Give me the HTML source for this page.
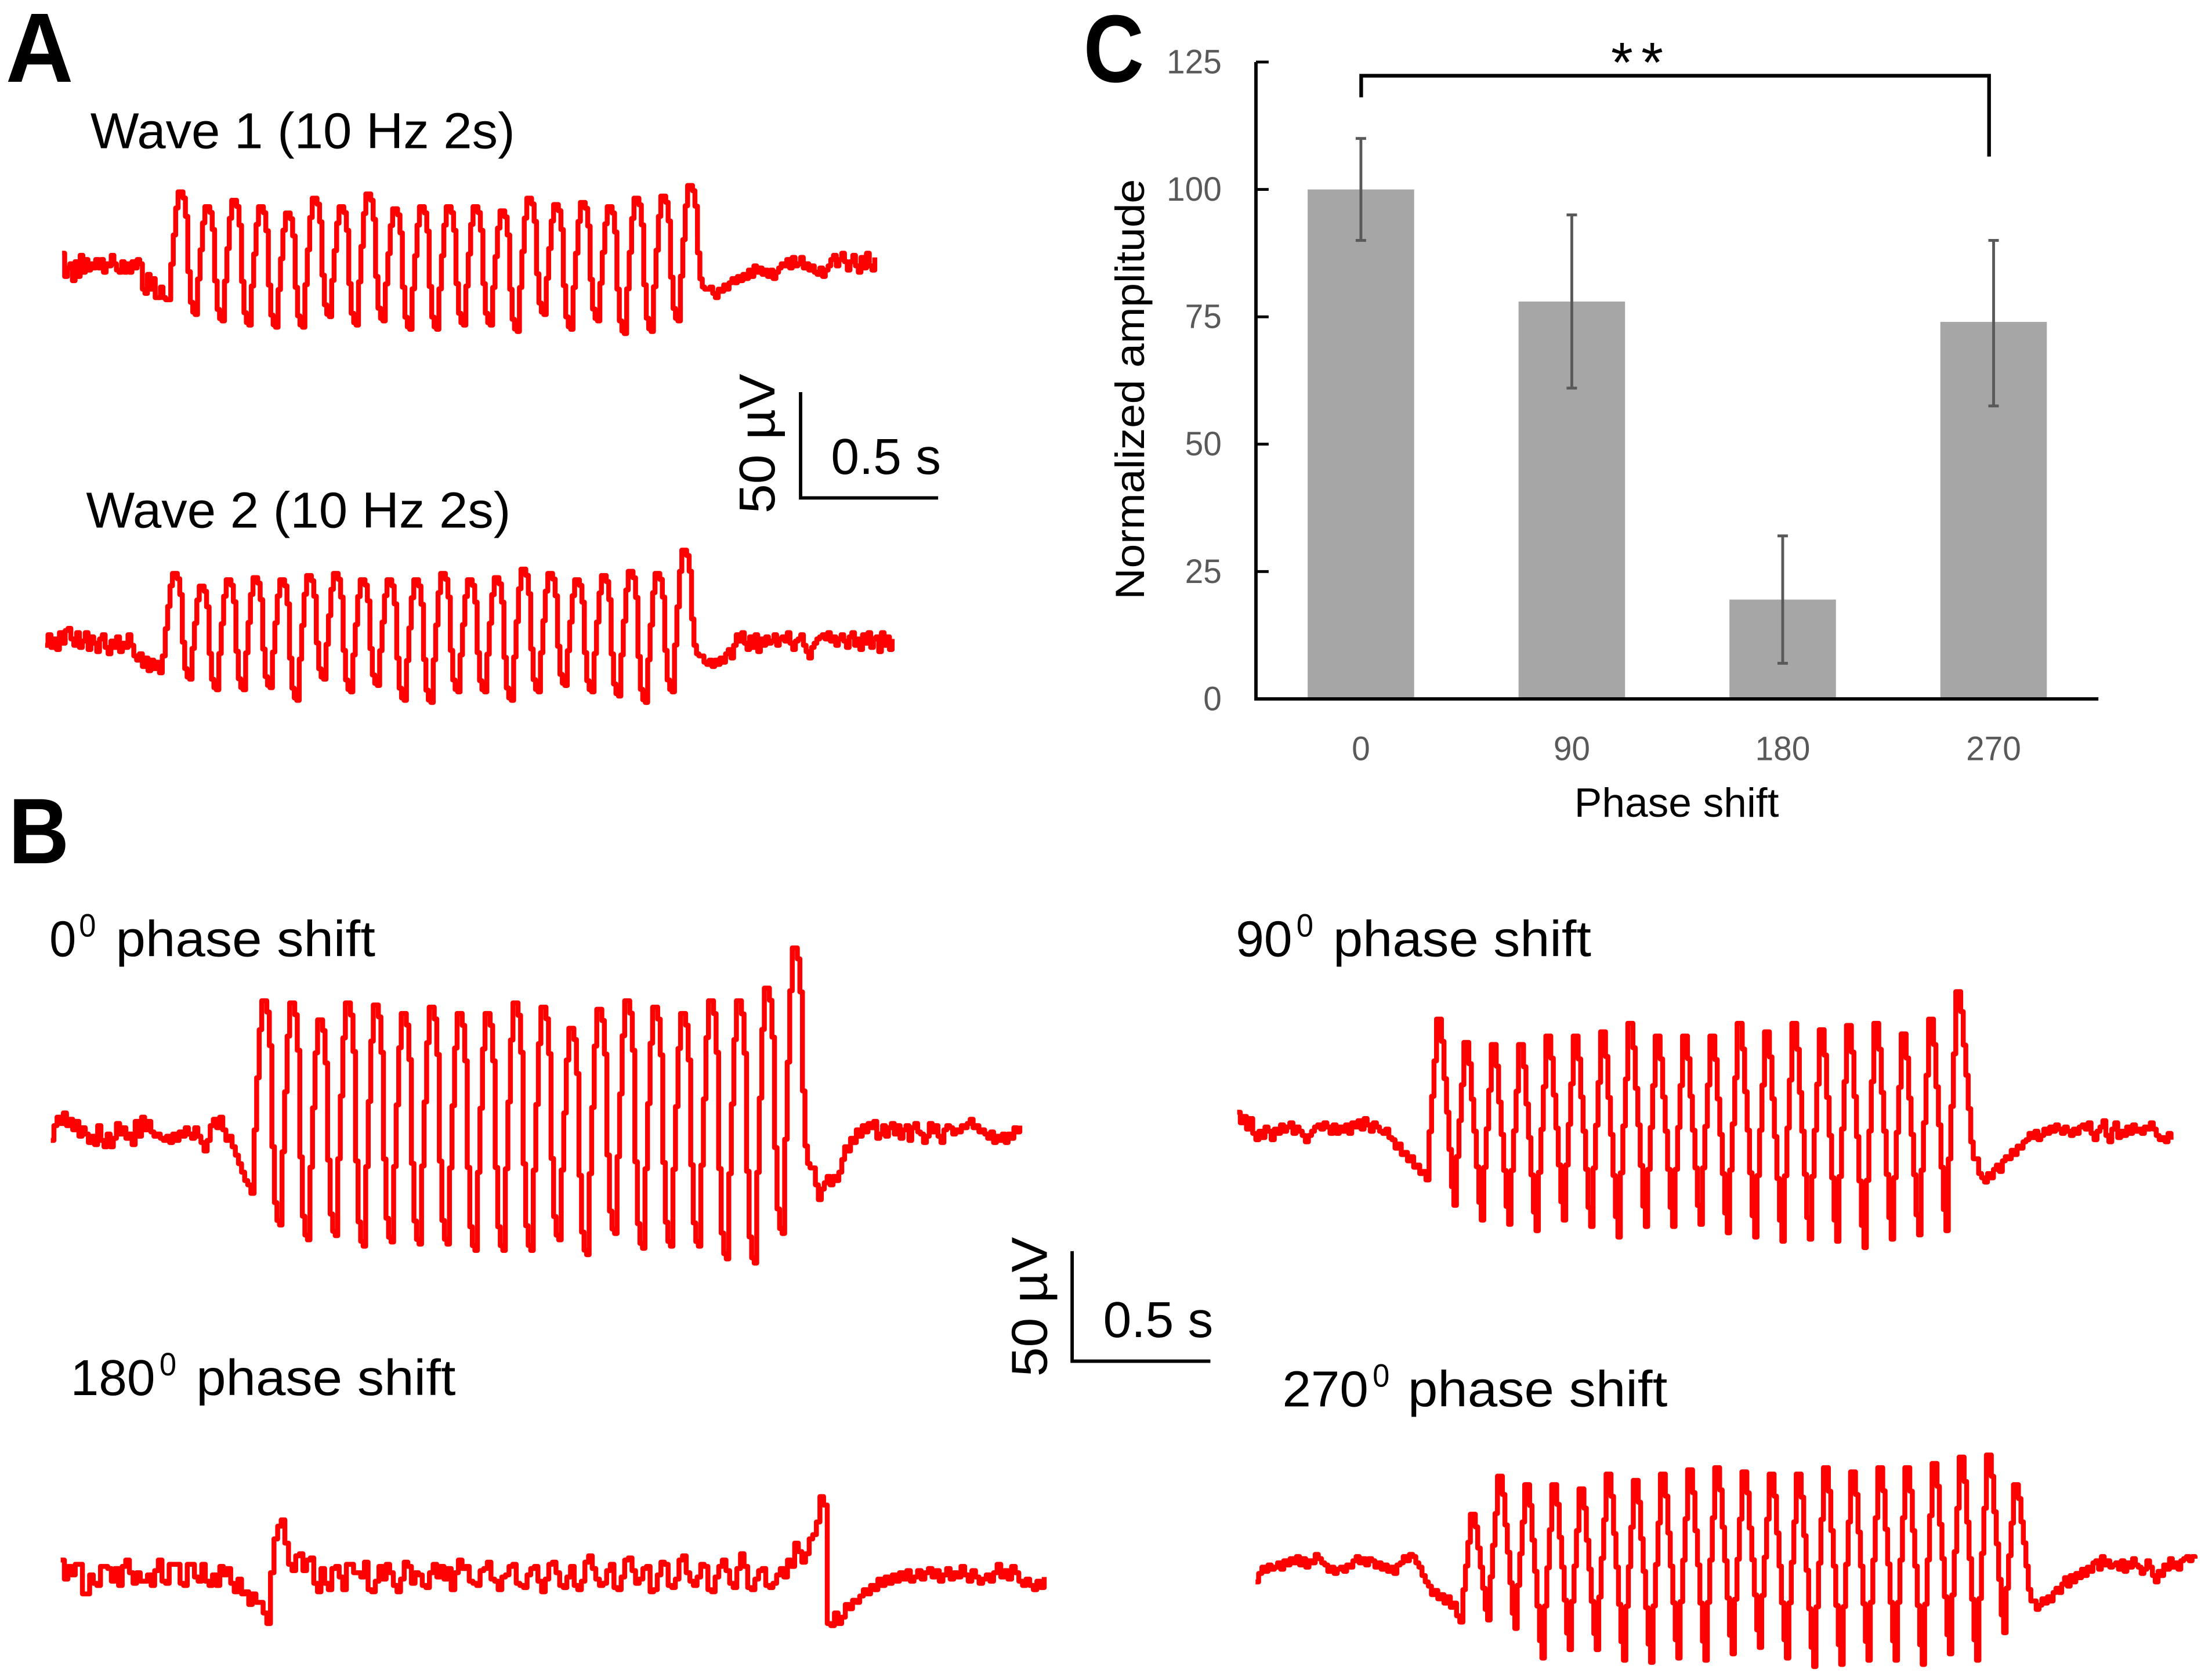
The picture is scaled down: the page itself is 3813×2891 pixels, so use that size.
<!DOCTYPE html>
<html lang="en">
<head>
<meta charset="utf-8">
<title>Phase shift recordings</title>
<style>
html,body{margin:0;padding:0;background:#fff}
svg{display:block}
text{font-family:"Liberation Sans",sans-serif;fill:#000}
</style>
</head>
<body>
<svg id="fig" xmlns="http://www.w3.org/2000/svg" width="3813" height="2891" viewBox="0 0 1568 1188.9">
  <rect width="1568" height="1189" fill="#fff"/>
  <text x="4" y="58" font-size="70" font-weight="700" textLength="48" lengthAdjust="spacingAndGlyphs">A</text>
  <text x="6" y="612" font-size="66" font-weight="700" textLength="43" lengthAdjust="spacingAndGlyphs">B</text>
  <text x="768" y="58" font-size="68" font-weight="700" textLength="43" lengthAdjust="spacingAndGlyphs">C</text>

  <text x="64" y="105" font-size="36" textLength="301" lengthAdjust="spacingAndGlyphs">Wave 1 (10 Hz 2s)</text>
  <text x="61" y="374" font-size="36" textLength="301" lengthAdjust="spacingAndGlyphs">Wave 2 (10 Hz 2s)</text>

  <g>
    <text x="35" y="678" font-size="36" textLength="19" lengthAdjust="spacingAndGlyphs">0</text>
    <text x="56" y="664" font-size="23" textLength="12" lengthAdjust="spacingAndGlyphs">0</text>
    <text x="82" y="678" font-size="36" textLength="184" lengthAdjust="spacingAndGlyphs">phase shift</text>
  </g>
  <g>
    <text x="876" y="678" font-size="36" textLength="40" lengthAdjust="spacingAndGlyphs">90</text>
    <text x="919" y="664" font-size="23" textLength="12" lengthAdjust="spacingAndGlyphs">0</text>
    <text x="945" y="678" font-size="36" textLength="183" lengthAdjust="spacingAndGlyphs">phase shift</text>
  </g>
  <g>
    <text x="50" y="989" font-size="36" textLength="60" lengthAdjust="spacingAndGlyphs">180</text>
    <text x="113" y="975" font-size="23" textLength="12" lengthAdjust="spacingAndGlyphs">0</text>
    <text x="139" y="989" font-size="36" textLength="184" lengthAdjust="spacingAndGlyphs">phase shift</text>
  </g>
  <g>
    <text x="909" y="997" font-size="36" textLength="61" lengthAdjust="spacingAndGlyphs">270</text>
    <text x="973" y="983" font-size="23" textLength="12" lengthAdjust="spacingAndGlyphs">0</text>
    <text x="998" y="997" font-size="36" textLength="184" lengthAdjust="spacingAndGlyphs">phase shift</text>
  </g>

  <g>
    <path d="M567.5 278V353H665" fill="none" stroke="#000" stroke-width="2.4"/>
    <text x="589" y="336" font-size="36" textLength="78" lengthAdjust="spacingAndGlyphs">0.5 s</text>
    <text transform="translate(549 364) rotate(-90)" font-size="36" textLength="99" lengthAdjust="spacingAndGlyphs">50 µV</text>
  </g>
  <g>
    <path d="M760 887V965H858" fill="none" stroke="#000" stroke-width="2.4"/>
    <text x="782" y="948" font-size="36" textLength="78" lengthAdjust="spacingAndGlyphs">0.5 s</text>
    <text transform="translate(742 976) rotate(-90)" font-size="36" textLength="99" lengthAdjust="spacingAndGlyphs">50 µV</text>
  </g>

  <g id="traces"></g>
  <g id="bars"></g>
</svg>

<script>
/* ---------- bar chart data ---------- */
var phaseCategories = ["0", "90", "180", "270"];
var amplitudeValues = [100, 78, 19.5, 74];
var errorLow = [90, 61, 7, 57.5];
var errorHigh = [110, 95, 32, 90];
var amplitudeTicks = [0, 25, 50, 75, 100, 125];

/* ---------- trace data, values in microvolts relative to baseline ---------- */
var wave1Pre = [5,-6,-2,0,-8,1,-6,4,-4,2,-3,0,-2,2,-2,2,-4,0,-1,4,0,-3,-4,1,-4,0,-4,1,-2,2,0,-12,-14,-5,-12,-7,-16,-16,-11,-16,-17,-17];
var wave1Peaks = [34,27,30,27,24,31,27,33,26,27,27,27,25,31,28,29,27,31,32,37];
var wave1Troughs = [-24,-27,-29,-30,-30,-25,-29,-27,-31,-31,-29,-29,-32,-24,-31,-27,-33,-32,-27];
var wave1Post = [-12,-11,-14,-16,-12,-13,-10,-12,-9,-7,-9,-6,-8,-5,-7,-3,-6,-1,-4,-2,-5,-3,-6,-3,-7,-4,-2,0,-1,2,-2,3,-1,0,3,-2,0,-3,-1,-4,-5,-2,-6,-3,-1,2,4,-1,2,5,1,-3,1,4,-1,-4,3,-2,5,-1,-3,3];

var wave2Pre = [-3,2,-4,0,-5,3,-2,4,5,0,-3,3,-4,-1,3,-5,1,-2,-6,0,2,-4,-7,-1,-4,1,-6,-2,-4,2,-3,-8,-10,-7,-13,-9,-15,-10,-14,-11,-16,-8];
var wave2Peaks = [31,25,28,29,28,30,31,28,28,28,31,28,29,33,31,28,30,32,31,42];
var wave2Troughs = [-19,-24,-24,-23,-29,-19,-25,-22,-29,-30,-25,-25,-29,-25,-22,-25,-27,-30,-25];
var wave2Post = [-8,-11,-12,-10,-13,-10,-12,-9,-11,-7,-5,-9,-3,2,-1,3,-2,-5,1,-4,2,-6,0,-3,1,-2,-1,2,-3,0,1,-1,3,-2,-5,-1,0,2,-3,-6,-9,-4,-2,0,1,2,0,3,-1,1,-3,0,2,-1,-4,1,3,-3,0,-5,2,-2,3,-4,0,1,-6,3,-3,1,-5,0];

var phase0Pre = [-5,2,6,3,8,2,5,0,4,-3,1,-2,-6,-3,-7,2,-5,-8,-2,-8,-4,3,-2,1,-4,-2,-7,4,-3,6,0,4,-1,-3,-2,-4,-5,-3,-6,-2,-5,-1,-3,1,-2,-4,1,-3,-6,-10,-5,2,5,1,6,0,-5,-3,-8,-12,-16,-20,-24,-26,-30];
var phase0Peaks = [61,60,52,60,59,55,58,55,55,60,58,48,57,61,58,55,61,61,67,86];
var phase0Troughs = [-45,-52,-50,-55,-53,-54,-54,-57,-57,-57,-52,-59,-49,-56,-55,-55,-61,-63,-49];
var phase0Post = [-18,-26,-33,-28,-25,-22,-26,-22,-24,-20,-14,-8,-10,-4,-6,0,-3,2,-1,3,1,4,-4,-2,2,-3,1,3,-2,2,-4,0,2,-5,1,3,-1,-2,-6,-3,3,-1,2,-3,-6,0,2,1,-2,0,-1,2,1,3,5,1,2,-1,0,-2,-4,-1,-6,-3,-5,-2,-6,-2,-4,1,-1,2];

var phase90Pre = [7,2,5,-1,4,-3,-6,-2,-5,0,-2,-6,-1,-3,1,-2,0,2,-3,0,-2,-4,-7,-4,-2,0,1,-1,2,0,-3,1,-3,0,-2,1,-3,2,0,3,-1,4,1,-2,2,0,-2,-3,-1,-5,-6,-10,-8,-13,-12,-16,-14,-19,-18,-22,-21,-25];
var phase90Peaks = [51,40,39,39,43,43,45,49,43,43,43,49,45,49,46,48,49,44,51,64];
var phase90Troughs = [-37,-44,-46,-49,-44,-47,-52,-47,-47,-46,-50,-52,-54,-53,-54,-57,-53,-51,-49];
var phase90Post = [-15,-22,-24,-26,-22,-24,-20,-18,-21,-16,-14,-15,-11,-13,-9,-10,-7,-6,-3,-5,-2,-6,-4,-1,-3,0,-2,1,-1,-3,0,-2,-4,-1,-3,0,1,-1,2,-3,-6,-2,0,3,-4,-7,-1,2,-5,-2,-4,0,-3,1,-2,-1,-3,0,-1,2,-1,-4,-6,-5,-7,-3,-6];

var phase270Pre = [-9,-5,-2,-4,-1,-3,-2,0,-3,1,-1,2,0,3,-1,2,-2,1,0,4,2,0,-1,-4,-2,-5,-3,-2,-4,-1,-2,1,3,0,2,-1,2,1,-2,0,-3,-1,-4,-2,-5,-1,0,3,1,4,3,0,-2,-6,-9,-11,-15,-13,-17,-15,-19,-16,-21,-19,-25,-28];
var phase270Peaks = [23,41,37,37,35,42,39,42,44,45,43,42,42,45,43,45,45,47,50,51,37];
var phase270Troughs = [-27,-31,-45,-41,-41,-46,-47,-45,-46,-43,-40,-45,-49,-48,-46,-46,-48,-43,-46,-33];
var phase270Post = [-18,-22,-20,-17,-19,-16,-18,-14,-12,-14,-10,-7,-11,-6,-9,-5,-7,-3,-6,-2,-4,0,1,-3,3,-1,1,-2,-1,0,-3,1,-4,0,-2,2,-1,-2,-5,-3,1,-2,-6,-9,-4,-6,-1,-3,2,-2,0,-3,1,2,3,1,3,2];

var phase180Samples = [
6,-3,3,-1,4,4,-10,-10,-1,-5,-6,3,3,2,-4,2,-6,3,6,0,-5,0,-4,-4,-1,-6,1,6,-4,-5,4,4,4,-5,-6,4,4,-2,-4,4,-4,-6,-1,-6,3,-1,2,-5,-9,-3,-10,-9,-15,-10,-14,-14,-19,-24,0,16,22,25,14,4,1,8,9,1,6,7,-5,-9,2,-5,-8,2,3,-2,-8,4,4,0,0,-2,5,-8,-9,-4,3,-3,4,0,-6,-9,-3,5,3,-5,0,-1,-6,-7,0,4,-2,3,-3,2,-8,0,6,
2,3,-4,-5,-6,1,2,5,-3,-4,-8,-2,-1,3,4,-5,-6,-7,-1,2,3,-4,-9,-3,4,5,0,-6,-7,-2,3,-6,-8,-4,5,8,2,-3,-6,-5,1,4,-7,-8,-2,6,7,1,-5,-3,2,3,-9,-8,-1,5,4,-6,-7,-3,6,8,0,-4,-6,-2,4,3,-8,-9,-2,3,6,1,-5,-7,2,9,3,-7,-8,-3,1,2,-6,-7,
-5,-1,2,-2,6,3,14,10,5,9,16,18,24,36,32,
-24,-25,-19,-24,-21,-15,-17,-13,-14,-11,-8,-10,-6,-8,-3,-6,-2,-5,-1,-4,0,-3,1,-4,-2,1,-3,0,2,-2,1,-4,-1,2,-3,0,-2,3,-1,-4,1,-2,-5,-3,-1,-4,0,4,-2,1,-3,3,0,-4,-6,-3,-6,-8,-4,-7,-2
];

/* ---------- axis constants ---------- */
var PX_PER_SECOND = 196;
var PX_PER_MICROVOLT = 1.5;
var RISE = [0.33, 0.6, 0.85, 1, 1];
var FALL = [0.95, 0.8, 0.35, 0.1, 0.02, 0];
var SPIKE_RISE = [0.3, 0.52, 0.74, 1, 1];
var SPIKE_FALL = [0.88, 0.68, 0.5, 0.3, 0.1, 0];

var NS = "http://www.w3.org/2000/svg";

function burstTrace(name, originX, baseY, preSeconds, burstSeconds, postSeconds, pre, peaks, troughs, post, rise, fall) {
  var timeX = function (t) { return originX + t * PX_PER_SECOND; };
  var valueY = function (v) { return baseY - v * PX_PER_MICROVOLT; };
  var samples = [];
  var i, j;
  for (i = 0; i < pre.length; i++) samples.push([preSeconds * i / pre.length, pre[i]]);
  var period = burstSeconds / peaks.length;
  var sampleDt = period / (rise.length + fall.length);
  var t = preSeconds;
  var low = pre[pre.length - 1];
  for (i = 0; i < peaks.length; i++) {
    for (j = 0; j < rise.length; j++) {
      samples.push([t, low + (peaks[i] - low) * rise[j]]);
      t += sampleDt;
    }
    var next = i < troughs.length ? troughs[i] : post[0];
    for (j = 0; j < fall.length; j++) {
      samples.push([t, next + (peaks[i] - next) * fall[j]]);
      t += sampleDt;
    }
    low = next;
  }
  var start = preSeconds + burstSeconds;
  for (i = 0; i < post.length; i++) samples.push([start + postSeconds * i / post.length, post[i]]);
  drawSamples(name, samples, timeX, valueY);
}

function plainTrace(name, originX, baseY, seconds, values) {
  var timeX = function (t) { return originX + t * PX_PER_SECOND; };
  var valueY = function (v) { return baseY - v * PX_PER_MICROVOLT; };
  var samples = values.map(function (v, i) { return [seconds * i / values.length, v]; });
  drawSamples(name, samples, timeX, valueY);
}

function drawSamples(name, samples, timeX, valueY) {
  var d = "M" + timeX(samples[0][0]).toFixed(1) + " " + valueY(samples[0][1]).toFixed(1);
  for (var i = 1; i < samples.length; i++) {
    d += "H" + timeX(samples[i][0]).toFixed(1) + "V" + valueY(samples[i][1]).toFixed(1);
  }
  var p = document.createElementNS(NS, "path");
  p.setAttribute("d", d);
  p.setAttribute("fill", "none");
  p.setAttribute("stroke", "#ff0000");
  p.setAttribute("stroke-width", "3.5");
  p.setAttribute("stroke-linejoin", "round");
  
  
  document.getElementById("traces").appendChild(p);
}

burstTrace("wave-1-trace", 44, 187, 0.393, 1.94, 0.616, wave1Pre, wave1Peaks, wave1Troughs, wave1Post, RISE, FALL);
burstTrace("wave-2-trace", 32, 453, 0.434, 1.939, 0.70, wave2Pre, wave2Peaks, wave2Troughs, wave2Post, RISE, FALL);
burstTrace("phase-0-trace", 36, 801, 0.735, 2.02, 0.76, phase0Pre, phase0Peaks, phase0Troughs, phase0Post, RISE, FALL);
burstTrace("phase-90-trace", 877, 799, 0.694, 1.977, 0.717, phase90Pre, phase90Peaks, phase90Troughs, phase90Post, SPIKE_RISE, SPIKE_FALL);
burstTrace("phase-270-trace", 890, 1108, 0.75, 2.063, 0.595, phase270Pre, phase270Peaks, phase270Troughs, phase270Post, SPIKE_RISE, SPIKE_FALL);
plainTrace("phase-180-trace", 43, 1115, 3.57, phase180Samples);

/* ---------- bar chart ---------- */
(function () {
  var root = document.getElementById("bars");
  var plotLeft = 890.3, plotRight = 1487.5, plotBottom = 495.5, plotTop = 44;
  var yScale = function (v) { return plotBottom - v * (plotBottom - plotTop) / 125; };
  var xScale = function (i) { return 964.7 + i * 149.5; };
  var barWidth = 75.5;

  function add(tag, attrs, text) {
    var el = document.createElementNS(NS, tag);
    for (var k in attrs) el.setAttribute(k, attrs[k]);
    if (text !== undefined) el.textContent = text;
    root.appendChild(el);
    return el;
  }

  amplitudeValues.forEach(function (v, i) {
    var bar = add("rect", { x: xScale(i) - barWidth / 2, y: yScale(v), width: barWidth, height: plotBottom - yScale(v), fill: "#a6a6a6" });
    
    
  });

  errorLow.forEach(function (low, i) {
    var cx = xScale(i);
    var e = add("path", {
      d: "M" + (cx - 3.7) + " " + yScale(errorHigh[i]) + "H" + (cx + 3.7) + "M" + cx + " " + yScale(errorHigh[i]) + "V" + yScale(low) + "M" + (cx - 3.7) + " " + yScale(low) + "H" + (cx + 3.7),
      fill: "none", stroke: "#595959", "stroke-width": 2
    });
    
    
  });

  var axis = add("path", { d: "M" + plotLeft + " " + plotTop + "V" + plotBottom + "H" + plotRight, fill: "none", stroke: "#000", "stroke-width": 2.4 });
  
  

  amplitudeTicks.forEach(function (v) {
    var tick = add("line", { x1: plotLeft, x2: plotLeft + 9, y1: yScale(v), y2: yScale(v), stroke: "#000", "stroke-width": 2 });
    
    
    var label = add("text", { x: 866, y: yScale(v) + 8, "font-size": 24, "text-anchor": "end", style: "fill:#595959" }, String(v));
    label.setAttribute('textLength', String(String(v).length * 13));
    label.setAttribute('lengthAdjust', 'spacingAndGlyphs');
    
    
  });

  phaseCategories.forEach(function (c, i) {
    var label = add("text", { x: xScale(i), y: 539, "font-size": 24, "text-anchor": "middle", style: "fill:#595959" }, c);
    label.setAttribute('textLength', String(c.length * 13));
    label.setAttribute('lengthAdjust', 'spacingAndGlyphs');
    
    
  });

  var xTitle = add("text", { x: 1116, y: 579, "font-size": 29, textLength: 145, lengthAdjust: "spacingAndGlyphs" }, "Phase shift");
  
  

  var yTitle = add("text", { transform: "translate(811 425) rotate(-90)", "font-size": 29, textLength: 298, lengthAdjust: "spacingAndGlyphs" }, "Normalized amplitude");
  
  

  var bracket = add("path", { d: "M964.9 69V53.7H1410V111", fill: "none", stroke: "#000", "stroke-width": 2.6 });
  
  

  var stars = add("text", { x: 1142, y: 58, "font-size": 40, textLength: 37, lengthAdjust: "spacing" }, "**");
  
  
})();
</script>
</body>
</html>
